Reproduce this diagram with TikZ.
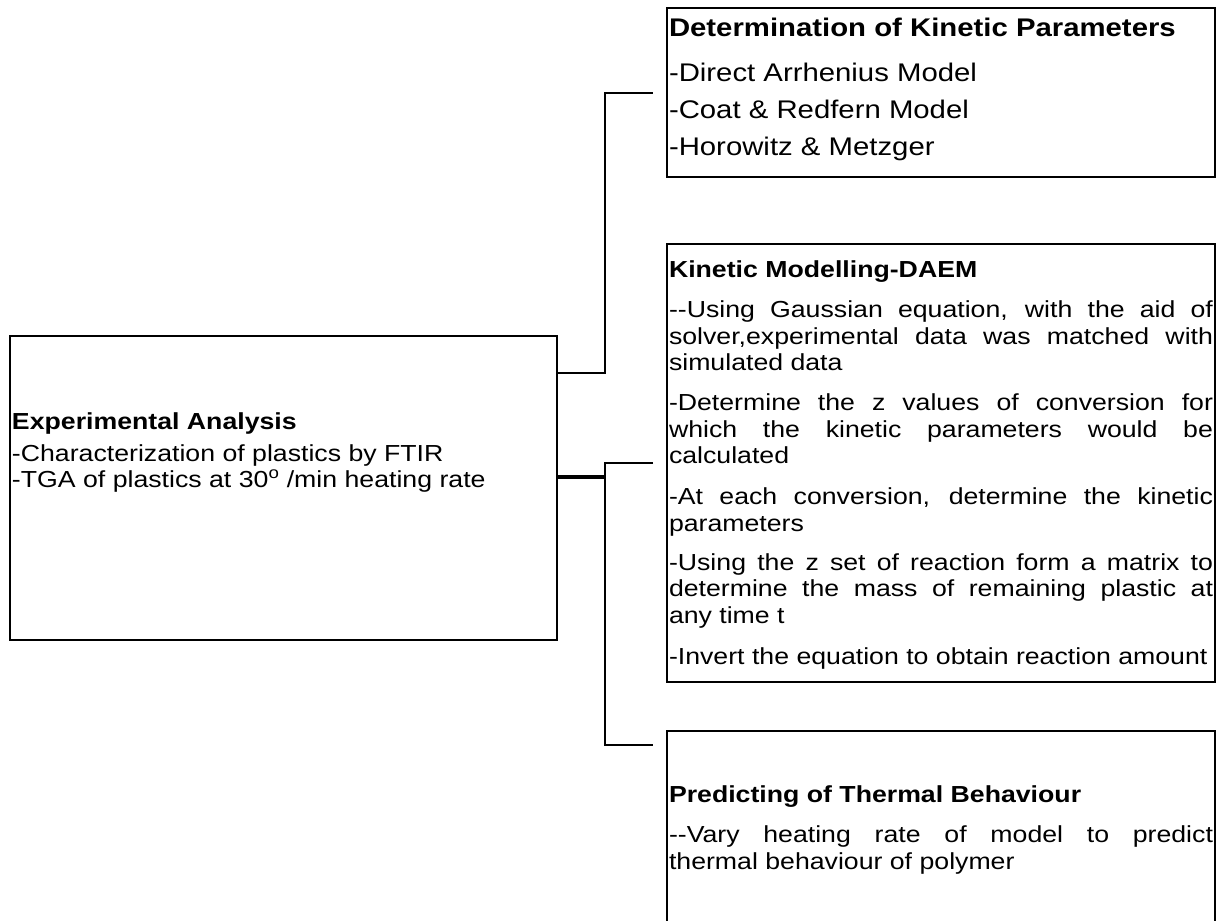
\documentclass[tikz,border=0pt]{standalone}
\usepackage{fontspec}
\setmainfont{Liberation Sans}[FakeStretch=1.15]
\newcommand\bodyfnt{\fontsize{23.2}{26.7}\selectfont}
\newcommand\bigfnt{\fontsize{25.5}{29}\selectfont}
\tolerance=9999
\hyphenpenalty=10000
\begin{document}
\begin{tikzpicture}[x=1pt,y=-1pt,
  box/.style={draw, line width=2.6pt, inner sep=0pt, outer sep=0pt, anchor=north west, minimum width=548pt},
  conn/.style={draw, line width=1.8pt},
  thickconn/.style={draw, line width=3.6pt},
  txtline/.style={anchor=base west, inner sep=0pt, outer sep=0pt, font=\bodyfnt},
  txtpar/.style={txtline, text width=544pt, align=justify}]
\useasboundingbox (0,0) rectangle (1221,921);
\clip (0,0) rectangle (1221,921);
\fill[white] (0,0) rectangle (1221,921);

% boxes
\node[box, minimum height=169pt] (det) at (667,8) {};
\node[box, minimum height=438pt] (kin) at (667,244) {};
\node[box, minimum height=230pt] (pred) at (667,731) {};
\node[box, minimum width=547pt, minimum height=304pt] (exp) at (10,336) {};

% box 1 text
\node[txtline, font=\bigfnt\bfseries] (d0) at (669,36.5) {Determination of Kinetic Parameters};
\node[txtline, font=\bigfnt] (d1) at (669,81.5) {-Direct Arrhenius Model};
\node[txtline, font=\bigfnt] (d2) at (669,118.5) {-Coat \& Redfern Model};
\node[txtline, font=\bigfnt] (d3) at (669,155.5) {-Horowitz \& Metzger};

% box 2 text
\node[txtline, font=\bodyfnt\bfseries] (k0) at (669,277.5) {Kinetic Modelling-DAEM};
\node[txtpar] (k1) at (669,317.5) {-{}-Using Gaussian equation, with the aid of\linebreak solver,experimental data was matched with\linebreak simulated data};
\node[txtpar] (k2) at (669,410.5) {-Determine the z values of conversion for\linebreak which the kinetic parameters would be\linebreak calculated};
\node[txtpar] (k3) at (669,504.5) {-At each conversion, determine the kinetic\linebreak parameters};
\node[txtpar] (k4) at (669,570) {-Using the z set of reaction form a matrix to\linebreak determine the mass of remaining plastic at\linebreak any time t};
\node[txtline] (k5) at (669,664.5) {-Invert the equation to obtain reaction amount};

% box 3 text
\node[txtline, font=\bodyfnt\bfseries] (p0) at (669,802.5) {Predicting of Thermal Behaviour};
\node[txtpar] (p1) at (669,842.5) {-{}-Vary heating rate of model to predict\linebreak thermal behaviour of polymer};

% left box text
\node[txtline, font=\bodyfnt\bfseries] (e0) at (12,429.5) {Experimental Analysis};
\node[txtline] (e1) at (12,461) {-Characterization of plastics by FTIR};
\node[txtline] (e2) at (12,487.5) {-TGA of plastics at 30\textsuperscript{o} /min heating rate};

% connectors
\draw[conn] ([yshift=-37pt]exp.north east) -- ++(48,0) |- ([xshift=-14pt,yshift=-85pt]det.north west);
\coordinate (jn) at ([xshift=48pt,yshift=-141pt]exp.north east);
\draw[thickconn] ([yshift=-141pt]exp.north east) -- (jn);
\draw[conn] ([xshift=-14pt,yshift=-219pt]kin.north west) -| (jn) |- ([xshift=-14pt,yshift=-14pt]pred.north west);
\end{tikzpicture}
\end{document}
